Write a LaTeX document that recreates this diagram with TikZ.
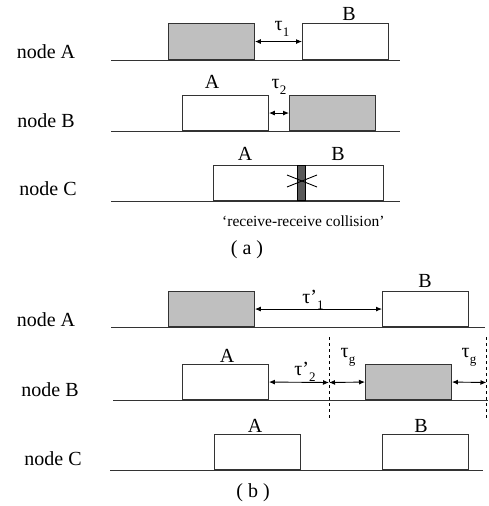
\documentclass[tikz,border=0pt]{standalone}
\usepackage{fontspec}
\setmainfont{Liberation Serif}
\usetikzlibrary{arrows.meta}
\newcommand\sbs[1]{\raisebox{-0.3em}{\fontsize{13}{13}\selectfont #1}}
\begin{document}
\begin{tikzpicture}[x=1pt,y=-1pt,
  base/.style={line width=0.9pt,draw=black!80},
  slot/.style={draw=black!80,line width=0.9pt,inner sep=0pt,anchor=south west,minimum width=86pt},
  gray/.style={slot,fill=black!25},
  white/.style={slot,fill=white},
  lbl/.style={inner sep=0pt,anchor=base,font=\fontsize{20}{24}\selectfont},
  dim/.style={line width=0.9pt,{Latex[length=6pt,width=5pt]}-{Latex[length=6pt,width=5pt]}},
  guide/.style={line width=0.8pt,dash pattern=on 3pt off 3pt}]
\useasboundingbox (0,0) rectangle (488,506);
% ---------- (a) ----------
\node[lbl] (la) at (46,58) {node A};
\node[lbl] (lb) at (46,127) {node B};
\node[lbl] (lc) at (48,195) {node C};
\coordinate (a0) at (111,60); \coordinate (a9) at (400,60);
\coordinate (b0) at (111,131); \coordinate (b9) at (400,131);
\coordinate (c0) at (111,201); \coordinate (c9) at (400,201);
\draw[base] (a0) -- (a9);
\draw[base] (b0) -- (b9);
\draw[base] (c0) -- (c9);
\node[gray,minimum height=36pt] (aA) at (168,60) {};
\node[white,minimum height=36pt] (aB) at (302,60) {};
\draw[dim] (aA.east) -- (aB.west);
\node[lbl] (tau1) at (282,30) {τ\sbs{1}};
\node[lbl] (tB1) at (349,20) {B};
\node[white,minimum height=35pt] (bA) at (182,131) {};
\node[gray,minimum height=35pt] (bB) at (289,131) {};
\draw[dim] (bA.east) -- (bB.west);
\node[lbl] (tA2) at (212,88) {A};
\node[lbl] (tau2) at (279,88) {τ\sbs{2}};
\node[white,minimum width=170pt,minimum height=35pt] (cAB) at (213,201) {};
\node[draw=black,line width=0.8pt,fill=black!65,inner sep=0pt,minimum width=8pt,minimum height=35pt,anchor=south] (col) at (301.5,201) {};
\coordinate (x1) at (287,175); \coordinate (x2) at (317,187);
\coordinate (x3) at (287,187); \coordinate (x4) at (317,175);
\draw[line width=0.9pt] (x1) -- (x2);
\draw[line width=0.9pt] (x3) -- (x4);
\node[lbl] (tA3) at (245,160) {A};
\node[lbl] (tB3) at (338,160) {B};
\node[inner sep=0pt,anchor=base west,font=\fontsize{15.5}{18}\selectfont] (coll) at (222,226) {‘receive-receive collision’};
\node[lbl] (capa) at (247,254) {( a )};
% ---------- (b) ----------
\node[lbl] (lA) at (46,326) {node A};
\node[lbl] (lB) at (50,396) {node B};
\node[lbl] (lC) at (53,465) {node C};
\coordinate (A0) at (111,327); \coordinate (A9) at (485,327);
\coordinate (B0) at (113,400); \coordinate (B9) at (488,400);
\coordinate (C0) at (110,470); \coordinate (C9) at (483,470);
\draw[base] (A0) -- (A9);
\draw[base] (B0) -- (B9);
\draw[base] (C0) -- (C9);
\node[gray,minimum height=35pt] (AA) at (168,327) {};
\node[white,minimum height=35pt] (AB) at (382,327) {};
\draw[dim] (AA.east) -- (AB.west);
\node[lbl] (tau1p) at (313,303) {τ’\sbs{1}};
\node[lbl] (tBb) at (425,287) {B};
\node[white,minimum height=35pt] (BA) at (182,400) {};
\node[gray,minimum height=35pt] (BB) at (365,400) {};
\coordinate (g1t) at (329,337); \coordinate (g1b) at (329,418);
\coordinate (g2t) at (486.5,337); \coordinate (g2b) at (486.5,418);
\draw[guide] (g1t) -- (g1b);
\draw[guide] (g2t) -- (g2b);
\coordinate (g1) at (329,382.5); \coordinate (g2) at (486.5,382.5);
\draw[dim] (BA.east) -- (g1);
\draw[dim] (g1) -- (BB.west);
\draw[dim] (BB.east) -- (g2);
\node[lbl] (tAb) at (227,362) {A};
\node[lbl] (tau2p) at (305,375) {τ’\sbs{2}};
\node[lbl] (taug1) at (348,357) {τ\sbs{g}};
\node[lbl] (taug2) at (469,357) {τ\sbs{g}};
\node[white,minimum height=35pt] (CA) at (214,470) {};
\node[white,minimum height=35pt] (CB) at (382,470) {};
\node[lbl] (tAc) at (255,432) {A};
\node[lbl] (tBc) at (421,432) {B};
\node[lbl] (capb) at (253,497) {( b )};
\end{tikzpicture}
\end{document}
